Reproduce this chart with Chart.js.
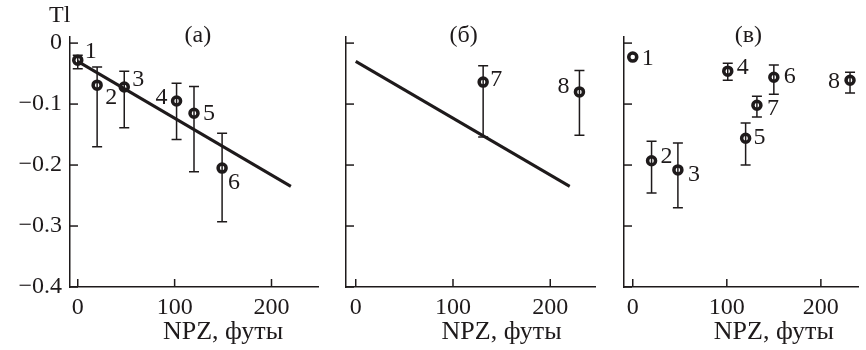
<!DOCTYPE html>
<html>
<head>
<meta charset="utf-8">
<script src="https://cdn.jsdelivr.net/npm/chart.js@4.4.1/dist/chart.umd.min.js"></script>
<style>
  html, body { margin: 0; padding: 0; background: #fff; }
  #wrap { position: relative; width: 866px; height: 350px; overflow: hidden; }
  canvas { position: absolute; top: 0; }
</style>
</head>
<body>
<div id="wrap">
  <canvas id="pa" width="330" height="350" style="left:0px"></canvas>
  <canvas id="pb" width="280" height="350" style="left:330px"></canvas>
  <canvas id="pc" width="256" height="350" style="left:610px"></canvas>
</div>
<script>
// axis ticks
const xTicks = [0, 100, 200];
const yTicks = [0, -0.1, -0.2, -0.3, -0.4];
const yTickLabels = ['0', '\u22120.1', '\u22120.2', '\u22120.3', '\u22120.4'];

// regression line (panels a, б)
const fitX = [0, 220];
const fitY = [-0.03, -0.235];

// panel (а)
const labelsA = ['1', '2', '3', '4', '5', '6'];
const npzA = [0, 20, 48, 102, 120, 149];
const tlA = [-0.028, -0.069, -0.072, -0.095, -0.115, -0.205];
const hiA = [-0.020, -0.039, -0.046, -0.066, -0.071, -0.148];
const loA = [-0.042, -0.170, -0.139, -0.158, -0.211, -0.293];

// panel (б)
const labelsB = ['7', '8'];
const npzB = [131, 230];
const tlB = [-0.064, -0.080];
const hiB = [-0.037, -0.045];
const loB = [-0.154, -0.151];

// panel (в)
const labelsC = ['1', '2', '3', '4', '5', '6', '7', '8'];
const npzC = [0, 20, 48, 101, 120, 150, 132, 231];
const tlC = [-0.023, -0.193, -0.208, -0.046, -0.156, -0.056, -0.102, -0.061];
const hiC = [-0.023, -0.161, -0.164, -0.033, -0.131, -0.036, -0.087, -0.048];
const loC = [-0.023, -0.246, -0.270, -0.061, -0.200, -0.084, -0.121, -0.082];

const INK = '#1e1a1b';
const SERIF = '"Liberation Serif", "DejaVu Serif", serif';

// label offsets (pixels) relative to each point: [dx, dy, align]
const offA = [[7, -8, 'left'], [8, 13, 'left'], [8, -7, 'left'], [-9, -3, 'right'], [9, 0, 'left'], [6, 15, 'left']];
const offB = [[7, -2, 'left'], [-10, -5, 'right']];
const offC = [[9, 2, 'left'], [9, -4, 'left'], [10, 5, 'left'], [9, -3, 'left'], [8, -1, 'left'], [10, -1, 'left'], [10, 3, 'left'], [-10, 1, 'right']];

function pts(xs, ys){
  return xs.map(function(x, i){ return { x: x, y: ys[i] }; });
}

const decor = {
  id: 'decor',
  beforeDatasetsDraw(chart, args, opts){
    const ctx = chart.ctx;
    const xs = chart.scales.x, ys = chart.scales.y;
    ctx.save();
    ctx.strokeStyle = INK;
    ctx.lineWidth = 1.5;
    // inward tick marks
    xTicks.forEach(function(v){
      const px = xs.getPixelForValue(v);
      ctx.beginPath(); ctx.moveTo(px, ys.bottom); ctx.lineTo(px, ys.bottom - 8); ctx.stroke();
    });
    yTicks.forEach(function(v){
      const py = ys.getPixelForValue(v);
      ctx.beginPath(); ctx.moveTo(xs.left, py); ctx.lineTo(xs.left + 8, py); ctx.stroke();
    });
    // error bars
    opts.x.forEach(function(x, i){
      const px = xs.getPixelForValue(x);
      const pt = ys.getPixelForValue(opts.hi[i]);
      const pb = ys.getPixelForValue(opts.lo[i]);
      if (Math.abs(pb - pt) < 1) return;
      ctx.beginPath();
      ctx.moveTo(px, pt); ctx.lineTo(px, pb);
      ctx.moveTo(px - 5, pt); ctx.lineTo(px + 5, pt);
      ctx.moveTo(px - 5, pb); ctx.lineTo(px + 5, pb);
      ctx.stroke();
    });
    ctx.restore();
  },
  afterDatasetsDraw(chart, args, opts){
    const ctx = chart.ctx;
    const xs = chart.scales.x;
    ctx.save();
    ctx.fillStyle = INK;
    ctx.font = '24px ' + SERIF;
    ctx.textBaseline = 'middle';
    // point numbers
    const meta = chart.getDatasetMeta(0);
    meta.data.forEach(function(el, i){
      const o = opts.off[i];
      ctx.textAlign = o[2];
      ctx.fillText(opts.labels[i], el.x + o[0], el.y + o[1]);
    });
    // panel letter
    ctx.textAlign = 'center';
    ctx.fillText(opts.panel, xs.getPixelForValue(opts.panelX), 36);
    // axis title
    ctx.font = '26px ' + SERIF;
    ctx.fillText('NPZ, \u0444\u0443\u0442\u044b', xs.getPixelForValue(150), 332);
    if (opts.yTitle) {
      ctx.textAlign = 'left';
      ctx.font = '24px ' + SERIF;
      ctx.fillText(opts.yTitle, 49, 16);
    }
    ctx.restore();
  }
};

function makePanel(id, cfg){
  const datasets = [{
    type: 'scatter',
    data: pts(cfg.x, cfg.y),
    pointRadius: 4,
    pointHoverRadius: 4,
    pointBorderWidth: 3.5,
    pointBorderColor: INK,
    pointBackgroundColor: 'rgba(0,0,0,0)',
    clip: false
  }];
  if (cfg.fit) {
    datasets.push({
      type: 'line',
      data: pts(fitX, fitY),
      borderColor: INK,
      borderWidth: 3,
      pointRadius: 0,
      fill: false,
      clip: false
    });
  }
  return new Chart(document.getElementById(id), {
    type: 'scatter',
    data: { datasets: datasets },
    options: {
      responsive: false,
      animation: false,
      events: [],
      layout: { padding: { top: 37, right: cfg.padRight, left: 0, bottom: 0 } },
      plugins: {
        legend: { display: false },
        tooltip: { enabled: false },
        decor: {
          x: cfg.x, hi: cfg.hi, lo: cfg.lo,
          labels: cfg.labels, off: cfg.off,
          panel: cfg.panel, panelX: cfg.panelX, yTitle: cfg.yTitle
        }
      },
      scales: {
        x: {
          type: 'linear',
          min: cfg.xmin, max: cfg.xmax,
          grid: { display: false, drawTicks: false },
          border: { display: true, color: INK, width: 1.5 },
          afterBuildTicks: function(s){ s.ticks = xTicks.map(function(v){ return { value: v }; }); },
          afterFit: function(s){ s.height = 63; },
          ticks: {
            color: INK,
            font: { family: SERIF, size: 24 },
            padding: 6,
            maxRotation: 0,
            callback: function(v){ return String(v); }
          }
        },
        y: {
          type: 'linear',
          min: -0.4, max: 0.01,
          grid: { display: false, drawTicks: false },
          border: { display: true, color: INK, width: 1.5 },
          afterBuildTicks: function(s){ s.ticks = yTicks.map(function(v){ return { value: v }; }); },
          afterFit: function(s){ s.width = cfg.yWidth; },
          ticks: {
            display: cfg.yLabels,
            color: INK,
            font: { family: SERIF, size: 24 },
            padding: 8,
            callback: function(v){
              const i = yTicks.findIndex(function(t){ return Math.abs(t - v) < 1e-9; });
              return i >= 0 ? yTickLabels[i] : '';
            }
          }
        }
      }
    },
    plugins: [decor]
  });
}

makePanel('pa', {
  x: npzA, y: tlA, hi: hiA, lo: loA, labels: labelsA, off: offA,
  fit: true, panel: '(\u0430)', panelX: 124, yTitle: 'Tl',
  xmin: -8, xmax: 248, yWidth: 70, yLabels: true, padRight: 12
});
makePanel('pb', {
  x: npzB, y: tlB, hi: hiB, lo: loB, labels: labelsB, off: offB,
  fit: true, panel: '(\u0431)', panelX: 111,
  xmin: -10, xmax: 246, yWidth: 16, yLabels: false, padRight: 15
});
makePanel('pc', {
  x: npzC, y: tlC, hi: hiC, lo: loC, labels: labelsC, off: offC,
  fit: false, panel: '(\u0432)', panelX: 123,
  xmin: -9.3, xmax: 240, yWidth: 14, yLabels: false, padRight: 0
});
</script>
</body>
</html>
